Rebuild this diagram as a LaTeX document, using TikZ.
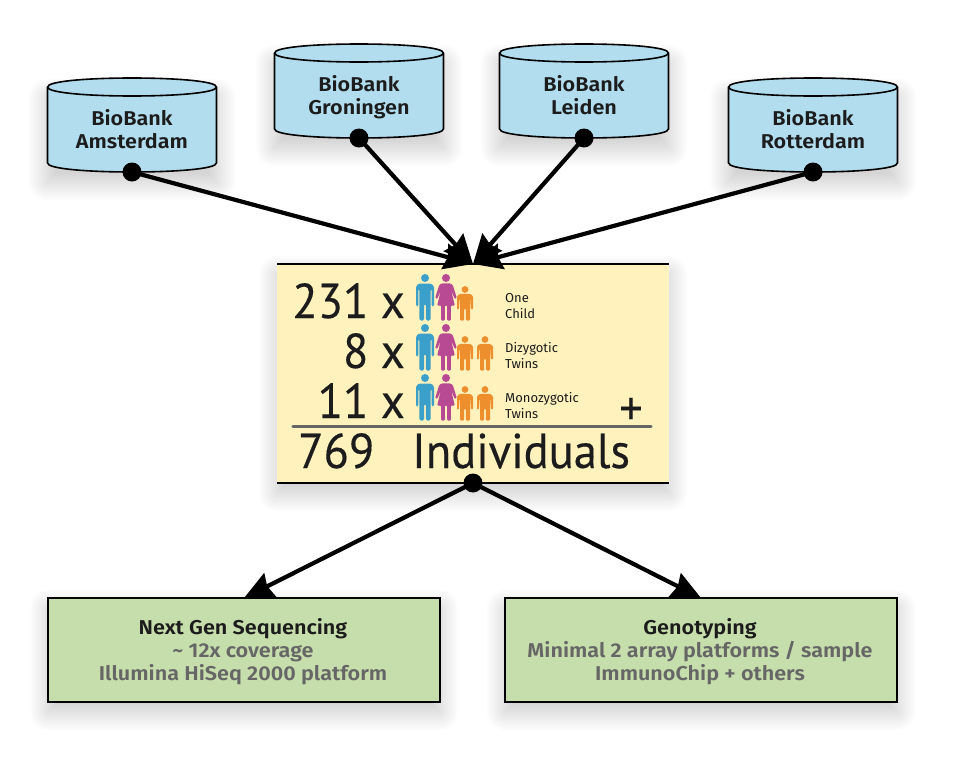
\documentclass[tikz,border=0pt]{standalone}
\usepackage{fontspec}
\setmainfont{Fira Sans}
\newfontfamily\bigfam[FakeStretch=0.95,FakeBold=0.25]{PT Sans}
\newfontfamily\boldfam[FakeStretch=1.08]{Fira Sans SemiBold}
\usetikzlibrary{arrows.meta}
\definecolor{cylblue}{HTML}{B1DDEE}
\definecolor{boxyellow}{HTML}{FFF2BD}
\definecolor{boxgreen}{HTML}{C6DDAC}
\definecolor{txt}{HTML}{1C1C1C}
\definecolor{subgray}{HTML}{666666}
\definecolor{manblue}{HTML}{3BA0C9}
\definecolor{womanpink}{HTML}{B84A94}
\definecolor{kidorange}{HTML}{EE8F2E}
\tikzset{
  x=1pt,y=-1pt,
  bigtext/.style={font=\bigfam\fontsize{49}{49}\selectfont,text=txt,anchor=base,inner sep=0pt},
  smalltext/.style={font=\fontsize{13}{16}\selectfont,text=txt,anchor=base west,inner sep=0pt},
  banktext/.style={font=\boldfam\fontsize{20}{23}\selectfont,text=txt,align=center,inner sep=0pt},
  greenbox/.style={draw=black,line width=1.8pt,fill=boxgreen,minimum width=392pt,minimum height=104pt,outer sep=0pt,inner sep=0pt},
  yellowbox/.style={fill=boxyellow,minimum width=392pt,minimum height=219pt,outer sep=0pt,inner sep=0pt},
  dotnode/.style={circle,fill=black,minimum size=19pt,inner sep=0pt,outer sep=0pt},
  conn/.style={line width=4.2pt,draw=black,-{Stealth[length=29pt,width=26pt,inset=3pt]}},
  cylline/.style={draw=black,line width=1.6pt,fill=cylblue,line join=round},
}
\newcommand{\softshadow}[4]{%
  \foreach \i in {-8,-6,...,18}{%
    \fill[black,opacity=0.011,rounded corners={max(\i,0)*1pt}] ({#1-\i},{#2-\i+10}) rectangle ({#3+\i},{#4+\i+10});
  }}
\newcommand{\bank}[4]{% name, cx, ellipse centre y, text
  \softshadow{#2-85}{#3}{#2+85}{#3+85}
  \draw[cylline] (#2-84.5,#3) -- (#2-84.5,#3+76) .. controls (#2-84.5,#3+88) and (#2+84.5,#3+88) .. (#2+84.5,#3+76) -- (#2+84.5,#3) .. controls (#2+84.5,#3-12) and (#2-84.5,#3-12) .. (#2-84.5,#3) -- cycle;
  \draw[cylline] (#2-84.5,#3) .. controls (#2-84.5,#3+12) and (#2+84.5,#3+12) .. (#2+84.5,#3);
  \node[banktext] (t#1) at (#2,#3+45) {#4\strut};
  \coordinate (c#1) at (#2,#3+85);
}
% origin: head centre
\newcommand{\man}[2]{\begin{scope}[shift={(#1,#2)}]
  \fill[manblue] (0,0) circle[radius=4];
  \fill[manblue,rounded corners=1.5pt] (-6,5.5) -- (6,5.5) -- (9,8) -- (9,28.5) -- (6.6,28.5) -- (6.6,11) -- (5.6,11) -- (5.6,42.5) -- (0.8,42.5) -- (0.8,26) -- (-0.8,26) -- (-0.8,42.5) -- (-5.6,42.5) -- (-5.6,11) -- (-6.6,11) -- (-6.6,28.5) -- (-9,28.5) -- (-9,8) -- cycle;
\end{scope}}
\newcommand{\woman}[2]{\begin{scope}[shift={(#1,#2)}]
  \fill[womanpink] (0,0) circle[radius=4];
  \fill[womanpink,rounded corners=1pt] (-4,5.3) -- (4,5.3) -- (6.8,7) -- (10.8,20) -- (8.8,21) -- (5.2,12.5) -- (8.8,27.5) -- (4.8,27.5) -- (4.8,42.5) -- (1.2,42.5) -- (1.2,27.5) -- (-1.2,27.5) -- (-1.2,42.5) -- (-4.8,42.5) -- (-4.8,27.5) -- (-8.8,27.5) -- (-5.2,12.5) -- (-8.8,21) -- (-10.8,20) -- (-6.8,7) -- cycle;
\end{scope}}
\newcommand{\kid}[2]{\begin{scope}[shift={(#1,#2)}]
  \fill[kidorange] (0,0) circle[radius=3.4];
  \fill[kidorange,rounded corners=1.2pt] (-5,4.3) -- (5,4.3) -- (8,6.5) -- (8,20) -- (5.9,20) -- (5.6,9.5) -- (5,9.5) -- (5,31) -- (0.8,31) -- (0.8,19) -- (-0.8,19) -- (-0.8,31) -- (-5,31) -- (-5,9.5) -- (-5.6,9.5) -- (-5.9,20) -- (-8,20) -- (-8,6.5) -- cycle;
\end{scope}}
\begin{document}
\begin{tikzpicture}
\useasboundingbox (0,0) rectangle (953,763);
% shadows + boxes
\softshadow{277}{264}{669}{483}
\softshadow{48}{598}{440}{702}
\softshadow{505}{598}{897}{702}
\node[yellowbox] (Y) at (473,373.5) {};
\draw[line width=1.6pt] (Y.north west) -- (Y.north east);
\draw[line width=1.6pt] (Y.south west) -- (Y.south east);
\node[greenbox] (G1) at (244,650) {};
\node[greenbox] (G2) at (701,650) {};
% banks
\bank{A}{132}{87}{BioBank\\Amsterdam}
\bank{G}{359}{53}{BioBank\\Groningen}
\bank{L}{584}{53}{BioBank\\Leiden}
\bank{R}{813}{87}{BioBank\\Rotterdam}
% connector ends
\node[dotnode] (dA) at (cA) {};
\node[dotnode] (dG) at (cG) {};
\node[dotnode] (dL) at (cL) {};
\node[dotnode] (dR) at (cR) {};
\node[dotnode] (dY) at (Y.south) {};
\draw[conn] (dA.center) -- (Y.north);
\draw[conn] (dG.center) -- (Y.north);
\draw[conn] (dL.center) -- (Y.north);
\draw[conn] (dR.center) -- (Y.north);
\draw[conn] (dY.center) -- (G1.north);
\draw[conn] (dY.center) -- (G2.north);
% counts
\node[bigtext,anchor=base east] (n1) at (405,318) {231 x};
\node[bigtext,anchor=base east] (n2) at (405,368) {8 x};
\node[bigtext,anchor=base east] (n3) at (405,418) {11 x};
\node[bigtext,anchor=base west] (n4) at (298,468) {769};
\node[bigtext,anchor=base west] (n5) at (412,468) {Individuals};
\node[bigtext] (plus) at (631,425) {+};
\draw[subgray,line width=3.4pt,line cap=round] (293,426.5) -- (651,426.5);
% people
\foreach \yy in {278,328,378}{
  \man{425}{\yy}
  \woman{446}{\yy}
  \kid{465}{\yy+11.5}
}
\kid{485}{339.5}
\kid{485}{389.5}
% small labels
\node[smalltext] (l1) at (505,302) {One};
\node[smalltext] (l2) at (505,318) {Child};
\node[smalltext] (l3) at (505,352) {Dizygotic};
\node[smalltext] (l4) at (505,368) {Twins};
\node[smalltext] (l5) at (505,402) {Monozygotic};
\node[smalltext] (l6) at (505,418) {Twins};
% box text
\node[banktext,anchor=base] (g1a) at (243,634) {Next Gen Sequencing};
\node[banktext,anchor=base,text=subgray] (g1b) at (243,657) {\textasciitilde{} 12x coverage};
\node[banktext,anchor=base,text=subgray] (g1c) at (243,680) {Illumina HiSeq 2000 platform};
\node[banktext,anchor=base] (g2a) at (700,634) {Genotyping};
\node[banktext,anchor=base,text=subgray] (g2b) at (700,657) {Minimal 2 array platforms / sample};
\node[banktext,anchor=base,text=subgray] (g2c) at (700,680) {ImmunoChip + others};
\end{tikzpicture}
\end{document}
